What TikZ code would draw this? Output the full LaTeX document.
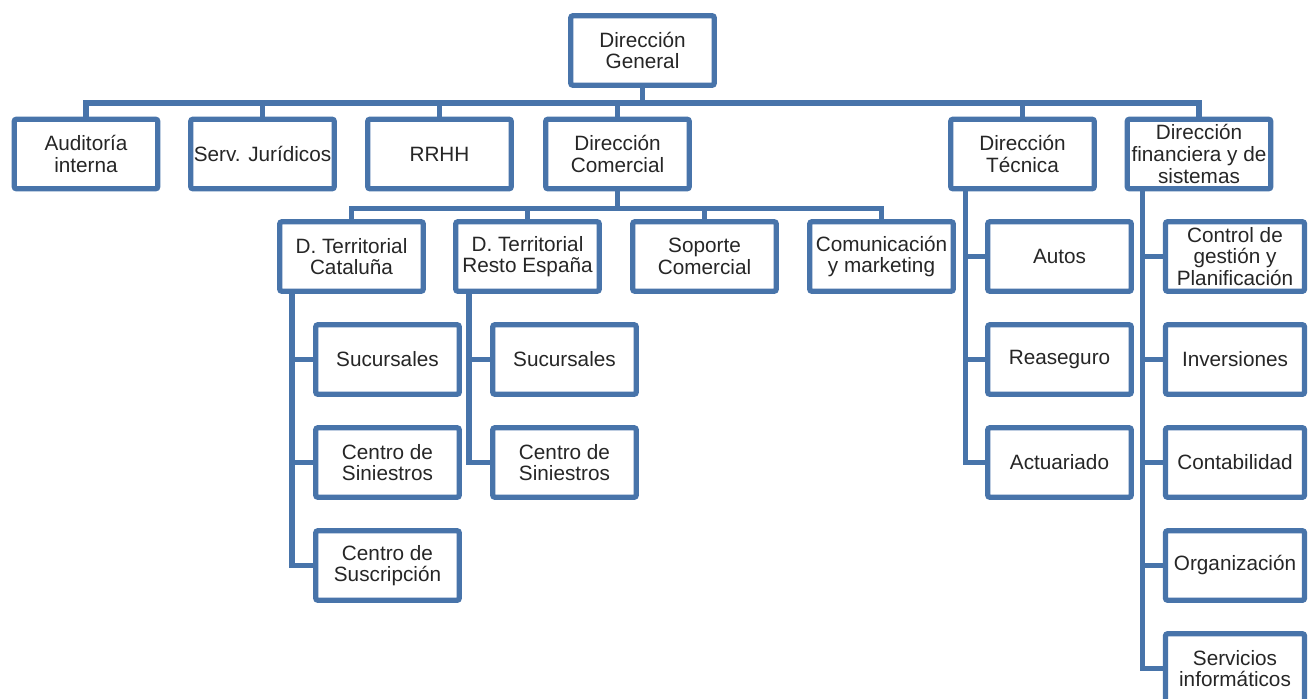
\documentclass[tikz,border=0pt]{standalone}
\usepackage{fontspec}
\setmainfont{Liberation Sans}
\definecolor{orgblue}{RGB}{72,116,170}
\newcommand{\orgbox}[3]{%
 \node[orgunit] ({#1}) at (#2) {#3};%
}
\newcommand{\orgcol}[3]{%
 \node[orgunit,minimum width=2.78cm] ({#1}) at (#2) {#3};%
}
\begin{document}
\begin{tikzpicture}[x=0.02cm,y=-0.02cm,
  orgunit/.style={draw=orgblue,fill=white,line width=3pt,rounded corners=1.2pt,
    minimum width=2.87cm,minimum height=1.39cm,inner sep=1pt,align=center,
    text=black!85,font=\fontsize{11.8}{12.3}\selectfont},
  link/.style={draw=orgblue,line width=3pt}]
  \clip (0,0) rectangle (1309,698);
  \orgbox{dg}{642.5,50.5}{Dirección\\General};
  \orgbox{audit}{86,154}{Auditoría\\interna};
  \orgbox{jur}{262.5,154}{Serv. Jurídicos};
  \orgbox{rrhh}{439.5,154}{RRHH};
  \orgbox{dcom}{617.5,154}{Dirección\\Comercial};
  \orgbox{dtec}{1022.5,154}{Dirección\\Técnica};
  \orgbox{dfin}{1199,154}{Dirección\\financiera y de\\sistemas};
  \orgbox{terrcat}{351.5,256.5}{D. Territorial\\Cataluña};
  \orgbox{terresp}{527.5,256.5}{D. Territorial\\Resto España};
  \orgbox{soporte}{704.5,256.5}{Soporte\\Comercial};
  \orgbox{comunic}{881.5,256.5}{Comunicación\\y marketing};
  \orgbox{sucA}{387.5,359.5}{Sucursales};
  \orgbox{sinA}{387.5,462.5}{Centro de\\Siniestros};
  \orgbox{suscA}{387.5,565.5}{Centro de\\Suscripción};
  \orgbox{sucB}{564.5,359.5}{Sucursales};
  \orgbox{sinB}{564.5,462.5}{Centro de\\Siniestros};
  \orgbox{autos}{1059.5,256.5}{Autos};
  \orgbox{reaseg}{1059.5,359.5}{Reaseguro};
  \orgbox{actuar}{1059.5,462.5}{Actuariado};
  \orgcol{control}{1235,256.5}{Control de\\gestión y\\Planificación};
  \orgcol{invers}{1235,359.5}{Inversiones};
  \orgcol{contab}{1235,462.5}{Contabilidad};
  \orgcol{organiz}{1235,565.5}{Organización};
  \orgcol{servinf}{1235,668.5}{Servicios\\informáticos};
  \foreach \n in {audit,jur,rrhh,dcom,dtec,dfin}
    \draw[link] (dg.south) -- ++(0,15) -| (\n.north);
  \foreach \n in {terrcat,terresp,soporte,comunic}
    \draw[link] (dcom.south) -- ++(0,17) -| (\n.north);
  \foreach \n in {sucA,sinA,suscA}
    \draw[link] (terrcat.south west) ++(15,0) |- (\n.west);
  \foreach \n in {sucB,sinB}
    \draw[link] (terresp.south west) ++(16,0) |- (\n.west);
  \foreach \n in {autos,reaseg,actuar}
    \draw[link] (dtec.south west) ++(17,0) |- (\n.west);
  \foreach \n in {control,invers,contab,organiz,servinf}
    \draw[link] (dfin.south west) ++(18,0) |- (\n.west);
\end{tikzpicture}
\end{document}
